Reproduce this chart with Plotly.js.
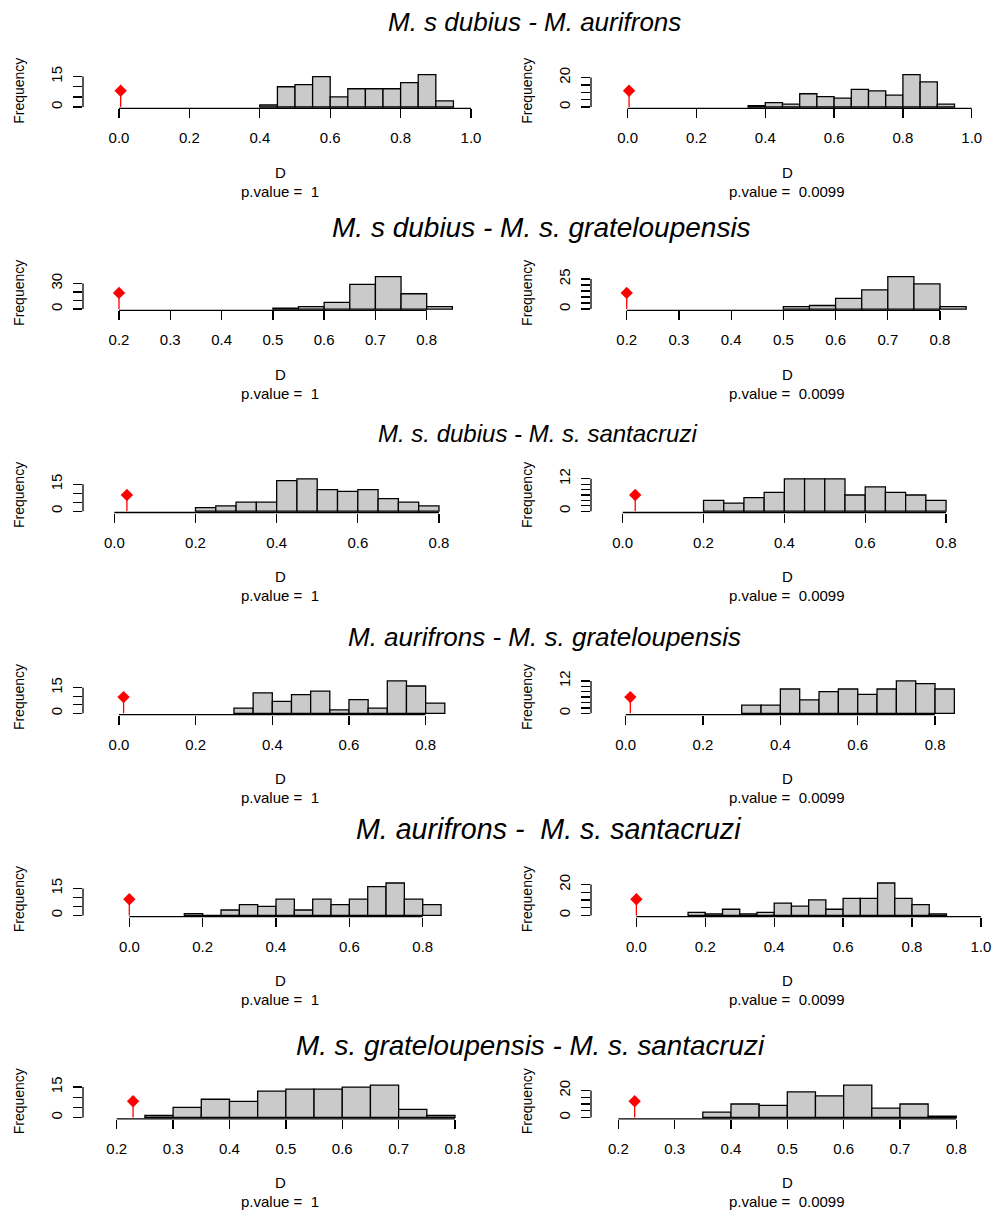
<!DOCTYPE html>
<html>
<head>
<meta charset="utf-8">
<script src="https://cdn.plot.ly/plotly-3.0.1.min.js"></script>
<style>html,body{margin:0;padding:0;background:#fff}#chart{width:996px;height:1210px}</style>
</head>
<body>
<div id="chart"></div>
<script>
// ---------- DATA ----------
const rowTitles = [
  "M. s dubius - M. aurifrons",
  "M. s dubius - M. s. grateloupensis",
  "M. s. dubius - M. s. santacruzi",
  "M. aurifrons - M. s. grateloupensis",
  "M. aurifrons -\u00a0 M. s. santacruzi",
  "M. s. grateloupensis - M. s. santacruzi"
];
const pLeft = "1";
const pRight = "0.0099";

// Row 1
const r1L_breaks = [0.40,0.45,0.50,0.55,0.60,0.65,0.70,0.75,0.80,0.85,0.90];
const r1L_counts = [1,10,11,15,5,9,9,9,12,16,3];
const r1L_obs = 0.0047;
const r1R_breaks = [0.35,0.40,0.45,0.50,0.55,0.60,0.65,0.70,0.75,0.80,0.85,0.90];
const r1R_counts = [1,3,2,9,7,6,12,11,8,22,17,2];
const r1R_obs = 0.004;
// Row 2
const r2L_breaks = [0.50,0.55,0.60,0.65,0.70,0.75,0.80];
const r2L_counts = [1,3,8,29,38,18,3];
const r2L_obs = 0.2;
const r2R_breaks = [0.50,0.55,0.60,0.65,0.70,0.75,0.80];
const r2R_counts = [2,3,9,16,27,21,2];
const r2R_obs = 0.2;
// Row 3
const r3L_breaks = [0.20,0.25,0.30,0.35,0.40,0.45,0.50,0.55,0.60,0.65,0.70,0.75];
const r3L_counts = [2,3,5,5,17,18,12,11,12,7,5,3];
const r3L_obs = 0.031;
const r3R_breaks = [0.20,0.25,0.30,0.35,0.40,0.45,0.50,0.55,0.60,0.65,0.70,0.75];
const r3R_counts = [4,3,5,7,12,12,12,6,9,7,6,4];
const r3R_obs = 0.031;
// Row 4
const r4L_breaks = [0.30,0.35,0.40,0.45,0.50,0.55,0.60,0.65,0.70,0.75,0.80];
const r4L_counts = [3,12,7,11,13,2,8,3,19,16,6];
const r4L_obs = 0.012;
const r4R_breaks = [0.30,0.35,0.40,0.45,0.50,0.55,0.60,0.65,0.70,0.75,0.80];
const r4R_counts = [3,3,9,5,8,9,7,9,12,11,9];
const r4R_obs = 0.012;
// Row 5
const r5L_breaks = [0.15,0.20,0.25,0.30,0.35,0.40,0.45,0.50,0.55,0.60,0.65,0.70,0.75,0.80];
const r5L_counts = [1,0,3,6,5,9,3,9,6,9,16,18,9,6];
const r5L_obs = 0.0;
const r5R_breaks = [0.15,0.20,0.25,0.30,0.35,0.40,0.45,0.50,0.55,0.60,0.65,0.70,0.75,0.80,0.85];
const r5R_counts = [2,1,4,1,2,8,6,10,4,11,11,21,11,7,1];
const r5R_obs = 0.0;
// Row 6
const r6L_breaks = [0.25,0.30,0.35,0.40,0.45,0.50,0.55,0.60,0.65,0.70,0.75];
const r6L_counts = [1,5,9,8,13,14,14,15,16,4,1];
const r6L_obs = 0.229;
const r6R_breaks = [0.35,0.40,0.45,0.50,0.55,0.60,0.65,0.70,0.75];
const r6R_counts = [4,10,9,19,16,24,7,10,1];
const r6R_obs = 0.229;

// Tick values
const xt_0to1 = [0.0,0.2,0.4,0.6,0.8,1.0];
const xt_0to08 = [0.0,0.2,0.4,0.6,0.8];
const xt_02to08 = [0.2,0.3,0.4,0.5,0.6,0.7,0.8];
const yt_15 = [0,5,10,15];
const yt_20 = [0,5,10,15,20];
const yt_25 = [0,5,10,15,20,25];
const yt_30 = [0,10,20,30];
const yt_12 = [0,2,4,6,8,10,12];

// ---------- LAYOUT CONFIG ----------
const W = 996, H = 1210;
const colX = [[83,477],[591,983]];
const freqX = [19,527];
const baseY = [107,309.1,511.2,713.3,915.4,1117.5];
const regionH = 35;
const titleX = [534,541,537,544,548,530];
const titleY = [22,228,433,637,829,1045];
const titleSize = [26,28,24,26,28.6,27.8];
const xRanges = [
  [-0.1023,1.0170],[-0.1066,1.0328],
  [0.1298,0.8981],[0.1316,0.8823],
  [-0.0772,0.8937],[-0.0784,0.8914],
  [-0.0939,0.934],[-0.0897,0.924],
  [-0.1263,0.948],[-0.1317,1.006],
  [0.1402,0.839],[0.1515,0.8474]
];

const panels = [
  {b:r1L_breaks,c:r1L_counts,o:r1L_obs,xt:xt_0to1,yt:yt_15,p:pLeft},
  {b:r1R_breaks,c:r1R_counts,o:r1R_obs,xt:xt_0to1,yt:yt_20,p:pRight},
  {b:r2L_breaks,c:r2L_counts,o:r2L_obs,xt:xt_02to08,yt:yt_30,p:pLeft},
  {b:r2R_breaks,c:r2R_counts,o:r2R_obs,xt:xt_02to08,yt:yt_25,p:pRight},
  {b:r3L_breaks,c:r3L_counts,o:r3L_obs,xt:xt_0to08,yt:yt_15,p:pLeft},
  {b:r3R_breaks,c:r3R_counts,o:r3R_obs,xt:xt_0to08,yt:yt_12,p:pRight},
  {b:r4L_breaks,c:r4L_counts,o:r4L_obs,xt:xt_0to08,yt:yt_15,p:pLeft},
  {b:r4R_breaks,c:r4R_counts,o:r4R_obs,xt:xt_0to08,yt:yt_12,p:pRight},
  {b:r5L_breaks,c:r5L_counts,o:r5L_obs,xt:xt_0to08,yt:yt_15,p:pLeft},
  {b:r5R_breaks,c:r5R_counts,o:r5R_obs,xt:xt_0to1,yt:yt_20,p:pRight},
  {b:r6L_breaks,c:r6L_counts,o:r6L_obs,xt:xt_02to08,yt:yt_15,p:pLeft},
  {b:r6R_breaks,c:r6R_counts,o:r6R_obs,xt:xt_02to08,yt:yt_20,p:pRight}
];

const FONT = "Liberation Sans, Arial, Helvetica, sans-serif";
const TICKSIZE = 15;
const traces = [];
const layout = {
  width: W, height: H, autosize: false,
  margin: {l:0,r:0,t:0,b:0},
  paper_bgcolor: '#fff', plot_bgcolor: 'rgba(0,0,0,0)',
  showlegend: false, bargap: 0,
  font: {family: FONT, color: '#000', size: 15},
  shapes: [], annotations: []
};

panels.forEach((pn, i) => {
  const row = Math.floor(i/2), col = i % 2;
  const n = i + 1;
  const xr = n === 1 ? 'x' : 'x' + n;
  const yr = n === 1 ? 'y' : 'y' + n;
  const M = Math.max(...pn.c);
  const bw = pn.b[1] - pn.b[0];
  const bottomPx = baseY[row] + 1.3;
  const topPx = bottomPx - regionH;
  const x0 = colX[col][0], x1 = colX[col][1];

  traces.push({
    type: 'bar', x: pn.b, y: pn.c, offset: 0, width: pn.b.map(() => bw),
    marker: {color: '#cacaca', line: {color: '#000', width: 1.3}},
    xaxis: xr, yaxis: yr, hoverinfo: 'skip'
  });
  traces.push({
    type: 'scatter', mode: 'lines', x: [pn.o, pn.o], y: [0, M/2],
    line: {color: '#ff0000', width: 1.3}, xaxis: xr, yaxis: yr, hoverinfo: 'skip', cliponaxis: false
  });
  traces.push({
    type: 'scatter', mode: 'markers', x: [pn.o], y: [M/2],
    marker: {symbol: 'diamond', size: 9.5, color: '#ff0000'}, xaxis: xr, yaxis: yr, hoverinfo: 'skip', cliponaxis: false
  });

  layout[n === 1 ? 'xaxis' : 'xaxis' + n] = {
    domain: [x0/W, x1/W], anchor: yr, range: xRanges[i],
    showgrid: false, zeroline: false, showline: false,
    ticks: 'outside', ticklen: 9, tickwidth: 1.3, tickcolor: '#000',
    tickmode: 'array', tickvals: pn.xt, tickformat: '.1f',
    ticklabelstandoff: 7,
    tickfont: {family: FONT, size: TICKSIZE, color: '#000'}, fixedrange: true
  };
  layout[n === 1 ? 'yaxis' : 'yaxis' + n] = {
    domain: [1 - bottomPx/H, 1 - topPx/H], anchor: xr, range: [-0.04*M, 1.04*M],
    showgrid: false, zeroline: false, showline: false,
    ticks: 'outside', ticklen: 9, tickwidth: 1.3, tickcolor: '#000',
    tickmode: 'array', tickvals: pn.yt,
    ticktext: pn.yt.map((v, k) => (k === 0 || k === pn.yt.length - 1) ? String(v) : ''),
    tickangle: -90, ticklabelstandoff: 5,
    tickfont: {family: FONT, size: TICKSIZE, color: '#000'}, fixedrange: true
  };

  // axis lines spanning first to last tick (R style)
  layout.shapes.push({type: 'line', xref: xr, yref: yr + ' domain',
    x0: pn.xt[0], x1: pn.xt[pn.xt.length-1], y0: 0, y1: 0,
    line: {color: '#000', width: 1.3}});
  layout.shapes.push({type: 'line', xref: xr + ' domain', yref: yr,
    x0: 0, x1: 0, y0: pn.yt[0], y1: pn.yt[pn.yt.length-1],
    line: {color: '#000', width: 1.3}});

  const cx = (x0 + x1) / 2 / W;
  layout.annotations.push({text: 'Frequency', xref: 'paper', yref: 'paper',
    x: freqX[col]/W, y: 1 - (topPx + bottomPx)/2/H, textangle: -90,
    showarrow: false, xanchor: 'center', yanchor: 'middle', font: {size: 14}});
  layout.annotations.push({text: 'D', xref: 'paper', yref: 'paper',
    x: cx, y: 1 - (baseY[row] + 65)/H, showarrow: false,
    xanchor: 'center', yanchor: 'middle', font: {size: 15}});
  layout.annotations.push({text: 'p.value =\u00a0 ' + pn.p, xref: 'paper', yref: 'paper',
    x: cx, y: 1 - (baseY[row] + 84)/H, showarrow: false,
    xanchor: 'center', yanchor: 'middle', font: {size: 15}});
});

rowTitles.forEach((t, r) => {
  layout.annotations.push({text: '<i>' + t + '</i>', xref: 'paper', yref: 'paper',
    x: titleX[r]/W, y: 1 - titleY[r]/H, showarrow: false,
    xanchor: 'center', yanchor: 'middle', font: {size: titleSize[r]}});
});

Plotly.newPlot('chart', traces, layout, {staticPlot: true, displayModeBar: false});
</script>
</body>
</html>
